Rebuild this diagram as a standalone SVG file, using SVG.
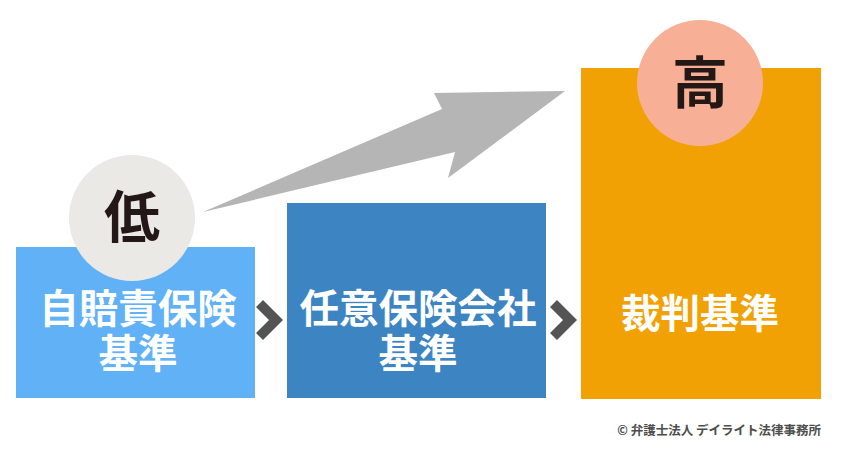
<svg xmlns="http://www.w3.org/2000/svg" width="850" height="450" viewBox="0 0 850 450">
<style>
.lbl{font-family:"Noto Sans CJK JP","Noto Sans",sans-serif;font-weight:700;fill:#fff;font-size:39.5px;text-anchor:middle}
.big{font-family:"Noto Sans CJK JP","Noto Sans",sans-serif;font-weight:700;fill:#231815;font-size:56px;text-anchor:middle}
.chev{fill:#545454}
</style>
<rect width="850" height="450" fill="#fff"/>
<g id="connectors">
<polygon points="203,212 442,109 434,93 565,91 448,178 455,152" fill="#b5b5b5"/>
<polygon class="chev" points="256,307 263,300 283,320 263,340 256,333 269,320"/>
<polygon class="chev" points="550,307 557,300 577,320 557,340 550,333 563,320"/>
</g>
<g id="node-jibaiseki">
<rect x="16" y="247" width="239" height="151" fill="#60b1f5"/>
<circle cx="132" cy="218" r="63" fill="#eae9e6"/>
<text class="big" x="132" y="237">低</text>
<text class="lbl"><tspan x="138" y="323">自賠責保険</tspan><tspan x="138" y="368">基準</tspan></text>
</g>
<g id="node-nini">
<rect x="287" y="203" width="259" height="195" fill="#3d84c3"/>
<text class="lbl"><tspan x="418" y="323">任意保険会社</tspan><tspan x="418" y="368">基準</tspan></text>
</g>
<g id="node-saiban">
<rect x="581" y="68" width="240" height="331" fill="#f1a104"/>
<circle cx="700" cy="83" r="63" fill="#f7b095"/>
<text class="big" x="700" y="103">高</text>
<text class="lbl" x="700" y="328">裁判基準</text>
</g>
<text x="821" y="435" text-anchor="end" style="font-family:'Noto Sans CJK JP','Noto Sans',sans-serif;font-weight:700;font-size:12.5px;fill:#4d4d4d">© 弁護士法人 デイライト法律事務所</text>
</svg>
